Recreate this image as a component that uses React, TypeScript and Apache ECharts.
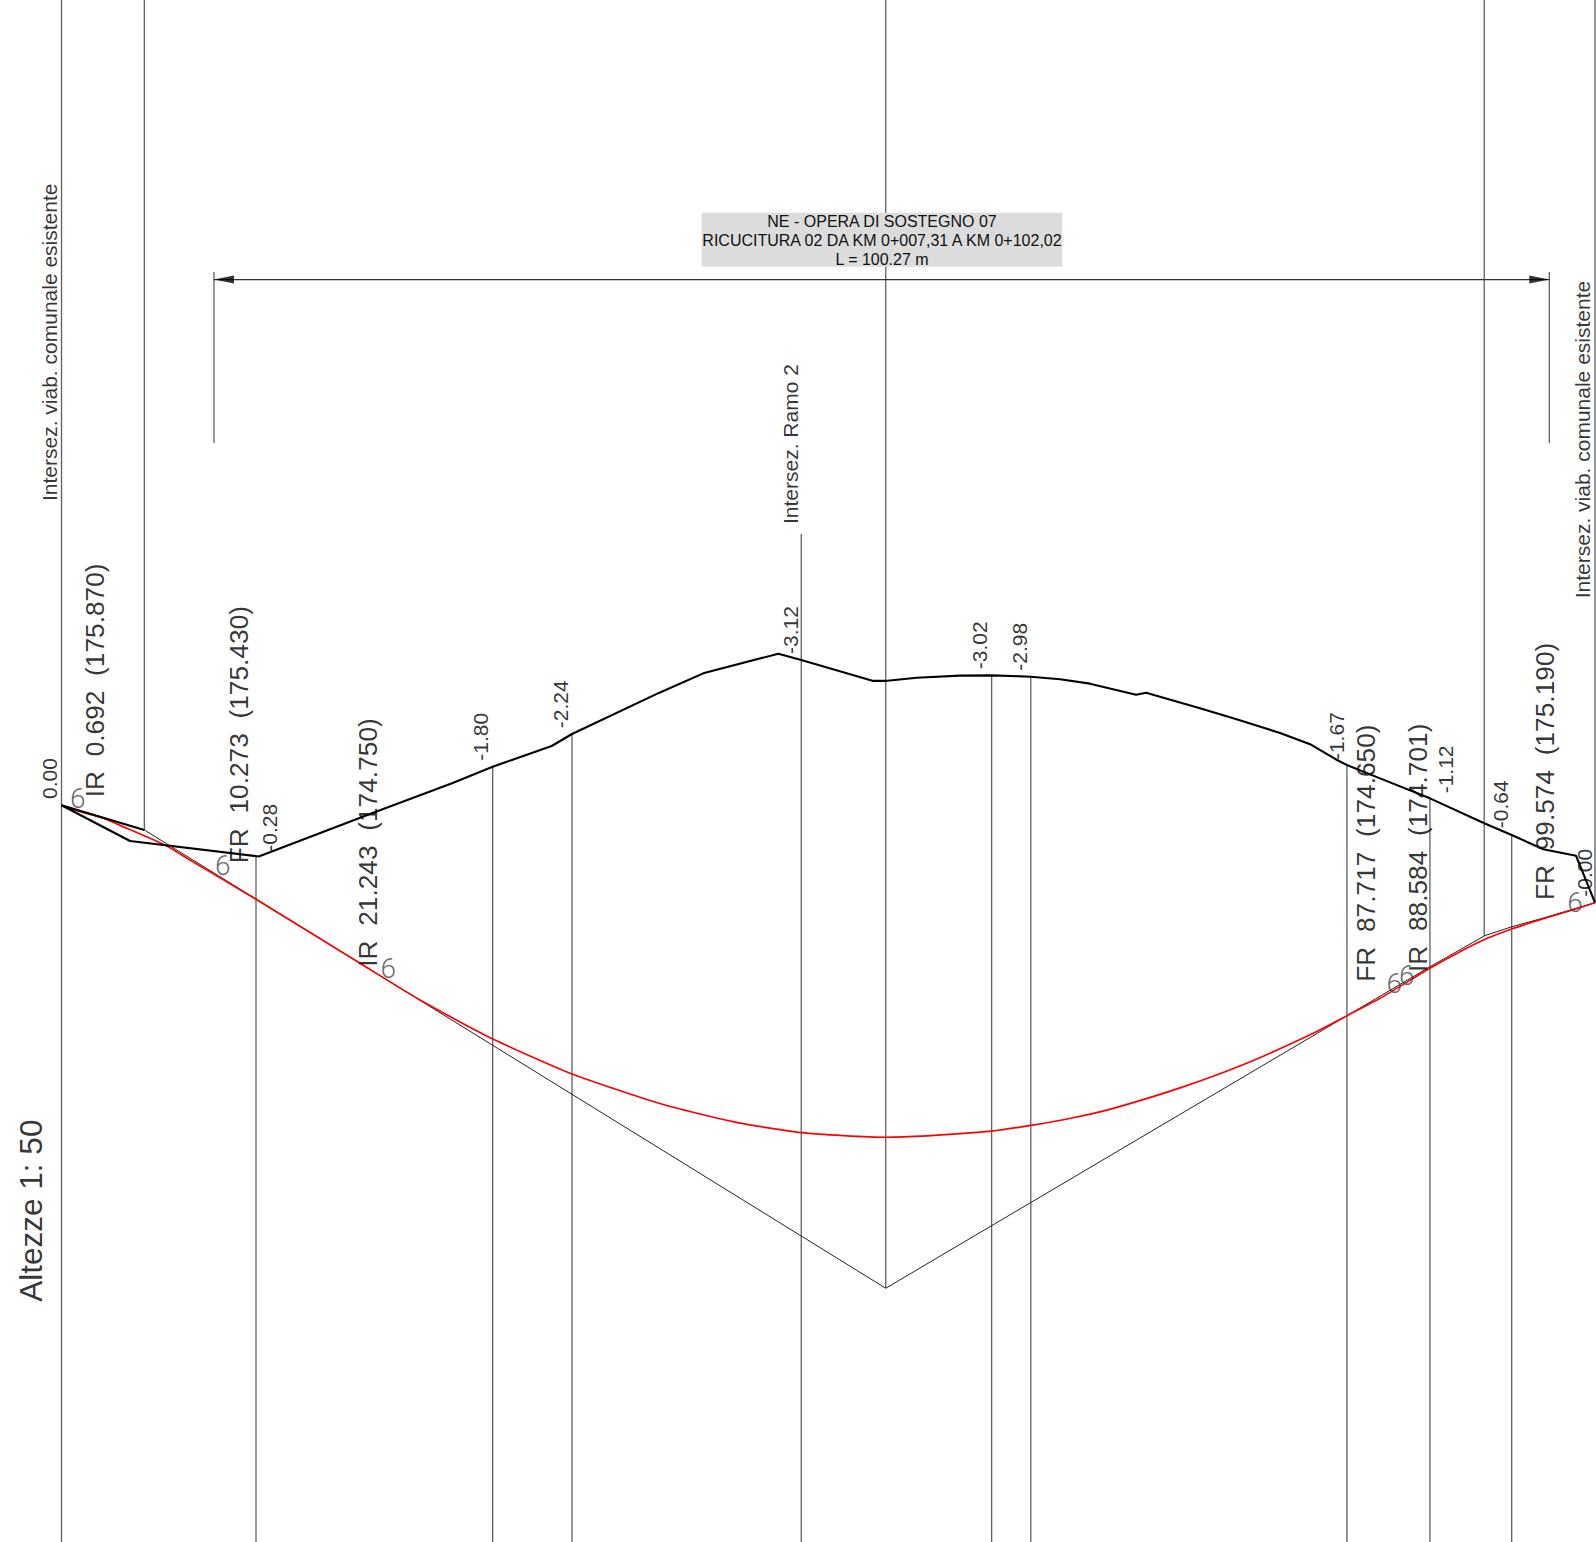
import React, { useEffect, useRef } from "react";
import * as echarts from "echarts";

// Long-section of the road: chainage in metres, elevation in metres a.s.l.
const CHAINAGE_MIN = -4.054;
const CHAINAGE_MAX = 101.147;
const ELEV_MIN = 171.0388;
const ELEV_MAX = 181.2305;

const terrainChainage = [0, 4.52, 13.0, 20.55, 25.83, 28.42, 32.31, 33.65, 39.45, 42.3, 47.25, 48.76, 53.51, 54.28, 56.37, 59.22, 61.31, 63.89, 65.82, 67.79, 70.83, 71.49, 75.04, 77.24, 80.32, 82.3, 84.01, 84.73, 86.91, 90.2, 93.78, 95.59, 97.67, 99.83, 101.08];
const terrainElev = [175.908, 175.672, 175.57, 175.859, 176.057, 176.163, 176.3, 176.379, 176.654, 176.78, 176.91, 176.868, 176.73, 176.73, 176.751, 176.765, 176.767, 176.758, 176.741, 176.712, 176.639, 176.652, 176.549, 176.483, 176.386, 176.312, 176.211, 176.174, 176.086, 175.954, 175.789, 175.712, 175.617, 175.575, 175.264];

const branchChainage = [0, 5.46];
const branchElev = [175.908, 175.745];

const gradeChainage = [0, 1.0, 2.76, 4.3, 5.62, 7.15, 8.47, 12.82, 19.68, 23.63, 28.44, 33.65, 39.54, 44.26, 48.76, 54.33, 61.33, 63.89, 66.61, 69.33, 73.73, 78.12, 82.51, 84.73, 86.91, 90.2, 91.97, 93.83, 95.59, 97.57, 99.43, 101.08];
const gradeElev = [175.908, 175.872, 175.822, 175.756, 175.7, 175.628, 175.546, 175.287, 174.864, 174.621, 174.363, 174.132, 173.934, 173.817, 173.744, 173.714, 173.755, 173.792, 173.841, 173.905, 174.04, 174.203, 174.401, 174.517, 174.632, 174.831, 174.929, 175.022, 175.09, 175.155, 175.211, 175.264];

const tangentChainage = [0, 5.46, 54.33, 90.2, 93.83, 95.59, 97.57, 101.08];
const tangentElev = [175.908, 175.745, 172.716, 174.841, 175.047, 175.105, 175.16, 175.264];

const verticalChainage = [0, 5.46, 12.82, 28.42, 33.65, 48.76, 54.33, 61.31, 63.89, 84.73, 90.2, 93.78, 95.59, 101.08];
const verticalFrom = [ELEV_MAX, ELEV_MAX, 175.57, 176.163, 176.379, 177.701, ELEV_MAX, 176.767, 176.758, 176.174, 175.954, ELEV_MAX, 175.712, ELEV_MAX];
const verticalTo = [ELEV_MIN, 175.745, ELEV_MIN, ELEV_MIN, ELEV_MIN, ELEV_MIN, 172.716, ELEV_MIN, ELEV_MIN, ELEV_MIN, ELEV_MIN, 175.044, ELEV_MIN, 175.264];

const vertexLabels = ["IR  0.692  (175.870)", "FR  10.273  (175.430)", "IR  21.243  (174.750)", "FR  87.717  (174.650)", "IR  88.584  (174.701)", "FR  99.574  (175.190)"];
const vertexLabelChainage = [2.21, 11.7, 20.2, 85.99, 89.42, 97.79];
const vertexLabelElev = [175.961, 175.525, 174.841, 174.742, 174.806, 175.282];

const diffLabels = ["0.00", "-0.28", "-1.80", "-2.24", "-3.12", "-3.02", "-2.98", "-1.67", "-1.12", "-0.64", "-0.00"];
const diffChainage = [-0.82, 13.74, 27.65, 32.86, 48.02, 60.54, 63.12, 84.01, 91.2, 94.82, 100.36];
const diffElev = [175.95, 175.601, 176.203, 176.417, 176.908, 176.807, 176.798, 176.207, 175.987, 175.756, 175.304];

const sixChainage = [1.07, 10.63, 21.54, 87.85, 88.67, 99.76];
const sixElev = [175.95, 175.509, 174.831, 174.727, 174.786, 175.264];

const noteLabels = ["Intersez. viab. comunale esistente", "Intersez. viab. comunale esistente", "Intersez. Ramo 2"];
const noteChainage = [-0.77, 100.26, 48.02];
const noteElev = [177.919, 177.276, 177.767];

const scaleLabel = ["Altezze 1: 50"];
const scaleChainage = [-2.01];
const scaleElev = [172.627];

const dimensionChainage = [10.05, 98.07];
const dimensionElev = 179.383;
const dimensionTickTop = 179.433;
const dimensionTickBottom = 178.303;
const arrowChainage = [10.71, 97.41];
const boxLines = ["NE - OPERA DI SOSTEGNO 07", "RICUCITURA 02 DA KM 0+007,31 A KM 0+102,02", "L = 100.27 m"];

const FONT = "Liberation Sans";
const zip = (xs: number[], ys: number[]) => xs.map((x, i) => [x, ys[i]]);

function textSeries(names: string[], xs: number[], ys: number[], fontSize: number, rotate = 90, extra: any = {}) {
  return {
    type: "scatter",
    silent: true,
    symbolSize: 1,
    itemStyle: { color: "transparent" },
    z: 6,
    data: names.map((name, i) => ({ name, value: [xs[i], ys[i]] })),
    label: {
      show: true,
      formatter: "{b}",
      position: "inside",
      rotate,
      align: rotate ? "left" : "center",
      verticalAlign: "middle",
      fontFamily: FONT,
      fontSize,
      color: "#000",
      ...extra,
    },
  };
}

function pathSeries(xs: number[], ys: number[], color: string, width: number, z: number, smooth: any = false) {
  return {
    type: "line",
    silent: true,
    showSymbol: false,
    symbol: "none",
    smooth,
    z,
    lineStyle: { color, width },
    data: zip(xs, ys),
  };
}

export default function App() {
  const ref = useRef<HTMLDivElement>(null);
  useEffect(() => {
    const chart = echarts.init(ref.current!, undefined, { renderer: "svg" });
    const verticals = verticalChainage.map((x, i) =>
      pathSeries([x, x], [verticalFrom[i], verticalTo[i]], "#5f5f5f", 1.3, 1)
    );
    const dimensionTicks = dimensionChainage.map((x) =>
      pathSeries([x, x], [dimensionTickTop, dimensionTickBottom], "#5f5f5f", 1.3, 1)
    );
    chart.setOption({
      animation: false,
      backgroundColor: "#fff",
      grid: { left: 0, right: 0, top: 0, bottom: 0 },
      xAxis: { type: "value", min: CHAINAGE_MIN, max: CHAINAGE_MAX, show: false },
      yAxis: { type: "value", min: ELEV_MIN, max: ELEV_MAX, show: false },
      series: [
        ...verticals,
        ...dimensionTicks,
        pathSeries(dimensionChainage, [dimensionElev, dimensionElev], "#333", 1.2, 1),
        {
          type: "scatter",
          silent: true,
          symbol: "triangle",
          symbolSize: [8, 20],
          z: 3,
          itemStyle: { color: "#000" },
          data: [
            { value: [arrowChainage[0], dimensionElev], symbolRotate: 90 },
            { value: [arrowChainage[1], dimensionElev], symbolRotate: -90 },
          ],
        },
        pathSeries(tangentChainage, tangentElev, "#222", 1, 2),
        pathSeries(gradeChainage, gradeElev, "#ff0000", 1.7, 3, 0.2),
        pathSeries(branchChainage, branchElev, "#000", 2, 4),
        pathSeries(terrainChainage, terrainElev, "#000", 2.1, 4),
        textSeries(vertexLabels, vertexLabelChainage, vertexLabelElev, 26.3),
        textSeries(diffLabels, diffChainage, diffElev, 21),
        textSeries(noteLabels, noteChainage, noteElev, 21),
        textSeries(scaleLabel, scaleChainage, scaleElev, 31.5),
        textSeries(sixChainage.map(() => "6"), sixChainage, sixElev, 28, 0, {
          fontFamily: "Roboto",
          fontWeight: 300,
          color: "#444",
        }),
      ],
      graphic: [
        { type: "rect", z: 50, shape: { x: 701.7, y: 212.7, width: 360.6, height: 54 }, style: { fill: "#dcdcdc" } },
        ...boxLines.map((text, i) => ({
          type: "text",
          z: 51,
          x: 882,
          y: [221.7, 240.7, 259][i],
          style: { text, fill: "#111", font: `16px "${FONT}"`, textAlign: "center", textVerticalAlign: "middle" },
        })),
      ],
    });
    return () => chart.dispose();
  }, []);
  return <div ref={ref} style={{ position: "absolute", left: 0, top: 0, width: 1596, height: 1542 }} />;
}
